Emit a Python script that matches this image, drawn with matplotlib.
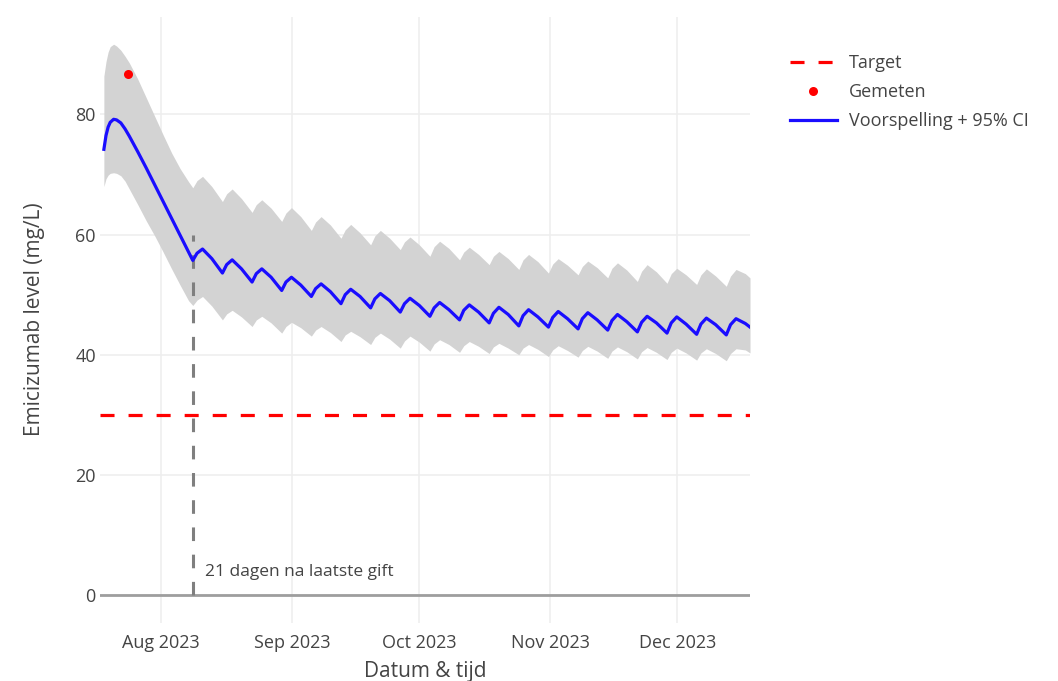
import matplotlib
matplotlib.use("Agg")
import matplotlib.pyplot as plt
import matplotlib.dates as mdates
import numpy as np
import pandas as pd

plt.rcParams['font.family'] = ['Open Sans', 'DejaVu Sans']
plt.rcParams['lines.scale_dashes'] = False

# ---------------- data ----------------
# prediction starts at the last dose; times are days after that dose
last_dose = pd.Timestamp("2023-07-18 14:00")

# first three weeks after the last dose
init_days = [0.0, 0.5, 1.0, 1.5, 2.3, 3.0, 4.0, 5.0, 6.0, 8.0, 10.0, 12.0, 14.0, 16.0, 18.0, 20.0]
init_pred = [74.2, 76.5, 77.9, 78.7, 79.2, 79.1, 78.6, 77.6, 76.4, 73.8, 71.1, 68.3, 65.5, 62.7, 59.9, 57.1]
init_hi = [86.4, 88.8, 90.4, 91.3, 91.7, 91.4, 90.7, 89.7, 88.6, 85.9, 82.8, 79.7, 76.6, 73.6, 71.0, 68.8]
init_lo = [68.0, 69.3, 69.9, 70.2, 70.3, 70.2, 69.8, 68.9, 67.6, 65.0, 62.3, 59.8, 57.1, 54.3, 51.6, 49.0]

# weekly doses from day 21 on; each week: at dose, rising, peak, falling
dose_days = [21, 28, 35, 42, 49, 56, 63, 70, 77, 84, 91, 98, 105, 112, 119, 126, 133, 140, 147]
cycle_offsets = [0.0, 1.0, 2.3, 4.5]

pred_trough = [55.7, 53.6, 52.1, 50.7, 49.7, 48.5, 47.8, 47.1, 46.4, 45.8, 45.3, 44.8, 44.6, 44.3, 44.1, 43.8, 43.6, 43.4, 43.3]
pred_rise = [56.9, 55.0, 53.5, 52.1, 51.0, 50.0, 49.3, 48.5, 47.8, 47.4, 46.9, 46.5, 46.2, 46.0, 45.7, 45.4, 45.3, 45.1, 45.0]
pred_peak = [57.6, 55.8, 54.3, 52.9, 51.8, 50.9, 50.2, 49.4, 48.7, 48.3, 47.9, 47.5, 47.2, 47.0, 46.7, 46.4, 46.3, 46.1, 46.0]
pred_fall = [56.0, 54.3, 52.9, 51.6, 50.5, 49.7, 49.0, 48.2, 47.5, 47.1, 46.7, 46.3, 46.0, 45.8, 45.5, 45.3, 45.1, 45.0, 45.2]

hi_trough = [67.8, 65.5, 63.7, 62.2, 60.7, 59.4, 58.3, 57.5, 56.4, 55.8, 55.0, 54.2, 53.6, 53.3, 52.8, 52.2, 51.9, 51.7, 51.4]
hi_rise = [69.0, 66.8, 65.0, 63.6, 62.1, 60.8, 59.8, 58.8, 58.0, 57.1, 56.4, 55.8, 55.1, 54.7, 54.4, 53.9, 53.5, 53.3, 53.1]
hi_peak = [69.7, 67.6, 65.8, 64.5, 63.0, 61.7, 60.7, 59.6, 58.9, 57.9, 57.2, 56.7, 56.0, 55.6, 55.3, 55.0, 54.4, 54.3, 54.2]
hi_fall = [68.0, 66.0, 64.4, 63.0, 61.6, 60.3, 59.4, 58.3, 57.7, 56.7, 56.0, 55.5, 54.9, 54.5, 54.1, 53.8, 53.3, 53.1, 53.5]

lo_trough = [48.2, 45.8, 44.7, 43.6, 43.1, 42.2, 41.7, 41.1, 40.6, 40.4, 40.2, 40.0, 39.7, 39.6, 39.4, 39.3, 39.2, 39.1, 39.0]
lo_rise = [49.1, 46.8, 45.8, 44.7, 44.1, 43.3, 42.9, 42.3, 41.8, 41.5, 41.3, 41.1, 40.8, 40.7, 40.6, 40.5, 40.4, 40.3, 40.2]
lo_peak = [49.7, 47.4, 46.4, 45.4, 44.7, 43.9, 43.6, 43.1, 42.5, 42.2, 41.9, 41.7, 41.5, 41.4, 41.3, 41.2, 41.1, 41.0, 41.0]
lo_fall = [48.1, 46.3, 45.3, 44.5, 43.7, 43.0, 42.6, 42.1, 41.7, 41.4, 41.1, 40.9, 40.7, 40.6, 40.5, 40.4, 40.3, 40.2, 40.8]

end_day = 152.6
pred_end, hi_end, lo_end = 44.6, 52.8, 40.3

measured_time = pd.Timestamp("2023-07-24 08:00")
measured_value = 86.7

target_level = 30
annotation_text = "21 dagen na laatste gift"
marker_day = 21

x_start = pd.Timestamp("2023-07-17 16:00")


# ---------------- build series ----------------
def weekly(trough, rise, peak, fall):
    vals = []
    for k in range(len(dose_days)):
        vals.extend([trough[k], rise[k], peak[k], fall[k]])
    return vals


days = list(init_days)
for d in dose_days:
    days.extend([d + o for o in cycle_offsets])
days.append(end_day)
days = np.array(days)

pred = np.array(init_pred + weekly(pred_trough, pred_rise, pred_peak, pred_fall) + [pred_end])
hi = np.array(init_hi + weekly(hi_trough, hi_rise, hi_peak, hi_fall) + [hi_end])
lo = np.array(init_lo + weekly(lo_trough, lo_rise, lo_peak, lo_fall) + [lo_end])

t0 = mdates.date2num(last_dose)
x = t0 + days

# ---------------- figure ----------------
W, H = 1058, 681
fig = plt.figure(figsize=(W / 100, H / 100), dpi=100)
L, R, T, B = 100, 750, 16.6, 622.6
ax = fig.add_axes([L / W, 1 - B / H, (R - L) / W, (B - T) / H])

text_color = '#444444'

ax.fill_between(x, lo, hi, color='#D3D3D3', lw=0, zorder=1)
ax.axhline(0, color='#9E9E9E', lw=2.0, zorder=2)
target_line, = ax.plot([mdates.date2num(x_start), x[-1]], [target_level, target_level],
                       color='red', lw=2.3, dashes=(10.1, 10.1), zorder=3, label='Target')
ax.plot([t0 + marker_day, t0 + marker_day], [0, 60], color='#7F7F7F', lw=2.2,
        dashes=(9.8, 9.8), zorder=3)
meas, = ax.plot([mdates.date2num(measured_time)], [measured_value], 'o', color='red',
                ms=6.5, mec='none', zorder=5, label='Gemeten')
pred_line, = ax.plot(x, pred, color='#1A0DFF', lw=2.3, zorder=4,
                     label='Voorspelling + 95% CI')

ax.annotate(annotation_text, xy=(t0 + marker_day, 0), xytext=(9, 16.5),
            textcoords='offset points', ha='left', va='center',
            fontsize=12.5, color=text_color)

ax.set_xlim(mdates.date2num(x_start), x[-1])
ax.set_ylim(-4.6, 96.3)

ax.xaxis.set_major_locator(mdates.MonthLocator())
ax.xaxis.set_major_formatter(mdates.DateFormatter('%b %Y'))
ax.set_yticks([0, 20, 40, 60, 80])
ax.grid(True, color='#EEEEEE', lw=1.1, zorder=0)
ax.set_axisbelow(True)
for s in ax.spines.values():
    s.set_visible(False)
ax.tick_params(length=0, labelsize=13, colors=text_color)
ax.tick_params(axis='x', pad=8)
ax.tick_params(axis='y', pad=3)

fig.text(425 / W, 1 - 672 / H, 'Datum & tijd', ha='center', va='center',
         fontsize=15, color=text_color)
fig.text(35 / W, 1 - 319 / H, 'Emicizumab level (mg/L)', ha='center', va='center',
         rotation=90, fontsize=15, color=text_color)

fig.legend(handles=[target_line, meas, pred_line], loc='upper left',
           bbox_to_anchor=(790 / W, 1 - 54 / H), bbox_transform=fig.transFigure,
           frameon=False, fontsize=13, labelcolor=text_color, handlelength=2.6,
           handletextpad=0.65, labelspacing=0.62, borderpad=0, borderaxespad=0)

fig.savefig('out.png', dpi=100)
